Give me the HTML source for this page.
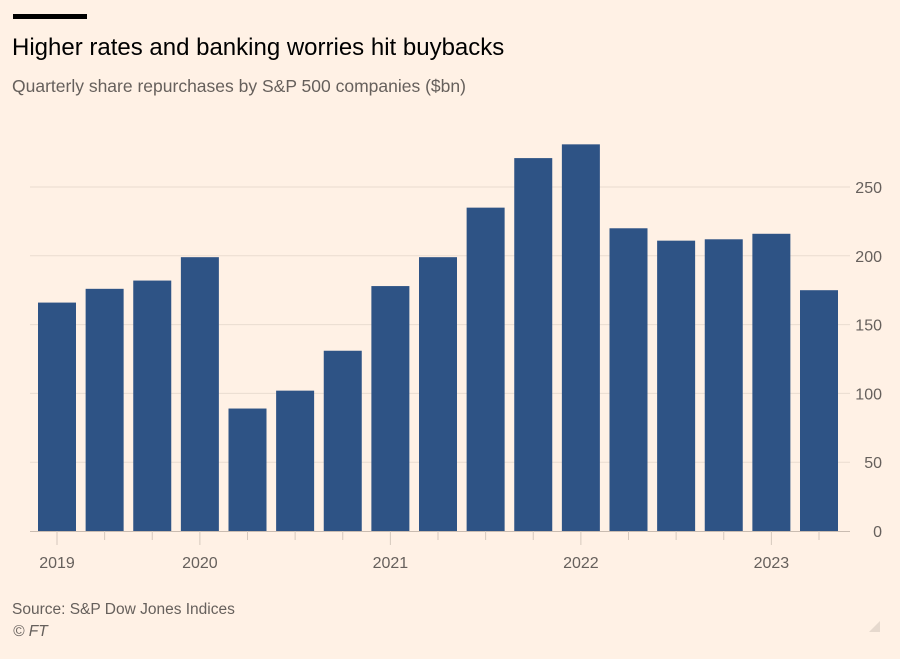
<!DOCTYPE html>
<html><head><meta charset="utf-8">
<style>
body{margin:0;background:#fff1e5;width:900px;height:654px;overflow:hidden;font-family:"Liberation Sans",sans-serif;}
</style></head>
<body>
<svg width="900" height="654" xmlns="http://www.w3.org/2000/svg">
<rect x="0" y="0" width="900" height="654" fill="#fff1e5"/>
<rect x="13" y="14" width="74" height="5" fill="#000"/>
<text x="12" y="55" font-size="24" fill="#000">Higher rates and banking worries hit buybacks</text>
<text x="12" y="92" font-size="17.5" fill="#66605c">Quarterly share repurchases by S&amp;P 500 companies ($bn)</text>
<g id="grid"></g>
<g id="bars"></g>
<g id="axis"></g>
<text x="12" y="614" font-size="15.5" fill="#66605c">Source: S&amp;P Dow Jones Indices</text>
<text x="13" y="636" font-size="15.5" font-style="italic" fill="#66605c">© FT</text>
<path d="M869 632 L880 621 L880 632 Z" fill="#e6d9ce"/>
</svg>
<script>
const categories=["2019Q1","2019Q2","2019Q3","2019Q4","2020Q1","2020Q2","2020Q3","2020Q4","2021Q1","2021Q2","2021Q3","2021Q4","2022Q1","2022Q2","2022Q3","2022Q4","2023Q1"];
const values=[166,176,182,199,89,102,131,178,199,235,271,281,220,211,212,216,175];
const yTicks=[0,50,100,150,200,250];
const yearLabels=["2019","2020","2021","2022","2023"];
const yearTickIndex=[0,3,7,11,15];
const NS="http://www.w3.org/2000/svg";
const y0=531,pxPer=344/250,x0=38,step=47.625,bw=38;
const yScale=v=>y0-v*pxPer;
const xScale=i=>x0+i*step;
function mk(t,a,p){const e=document.createElementNS(NS,t);for(const k in a)e.setAttribute(k,a[k]);p.appendChild(e);return e;}
const grid=document.getElementById('grid'),bars=document.getElementById('bars'),axis=document.getElementById('axis');
yTicks.forEach(v=>{
  if(v>0){const l=mk('line',{x1:30,x2:850,y1:yScale(v),y2:yScale(v),stroke:'#eadcd0','stroke-width':1},grid);
  
  }
  const t=mk('text',{x:882,y:yScale(v)+6,'font-size':16,fill:'#66605c','text-anchor':'end'},grid);
  t.textContent=v;
  
  
});
values.forEach((v,i)=>{
  const r=mk('rect',{x:xScale(i),y:yScale(v),width:bw,height:y0-yScale(v),fill:'#2e5385'},bars);
  
  
});
const al=mk('line',{x1:30,x2:850,y1:y0+0.5,y2:y0+0.5,stroke:'#c9bcb1','stroke-width':1},axis);


categories.forEach((c,i)=>{
  const cx=xScale(i)+bw/2, k=yearTickIndex.indexOf(i), yr=k>=0;
  const tk=mk('line',{x1:cx,x2:cx,y1:y0,y2:y0+(yr?14:9),stroke:'#d5c8bd','stroke-width':1},axis);
  
  
  if(yr){const t=mk('text',{x:cx,y:y0+37,'font-size':16,fill:'#66605c','text-anchor':'middle'},axis);
  t.textContent=yearLabels[k];
  
  }
});
</script>
</body></html>
